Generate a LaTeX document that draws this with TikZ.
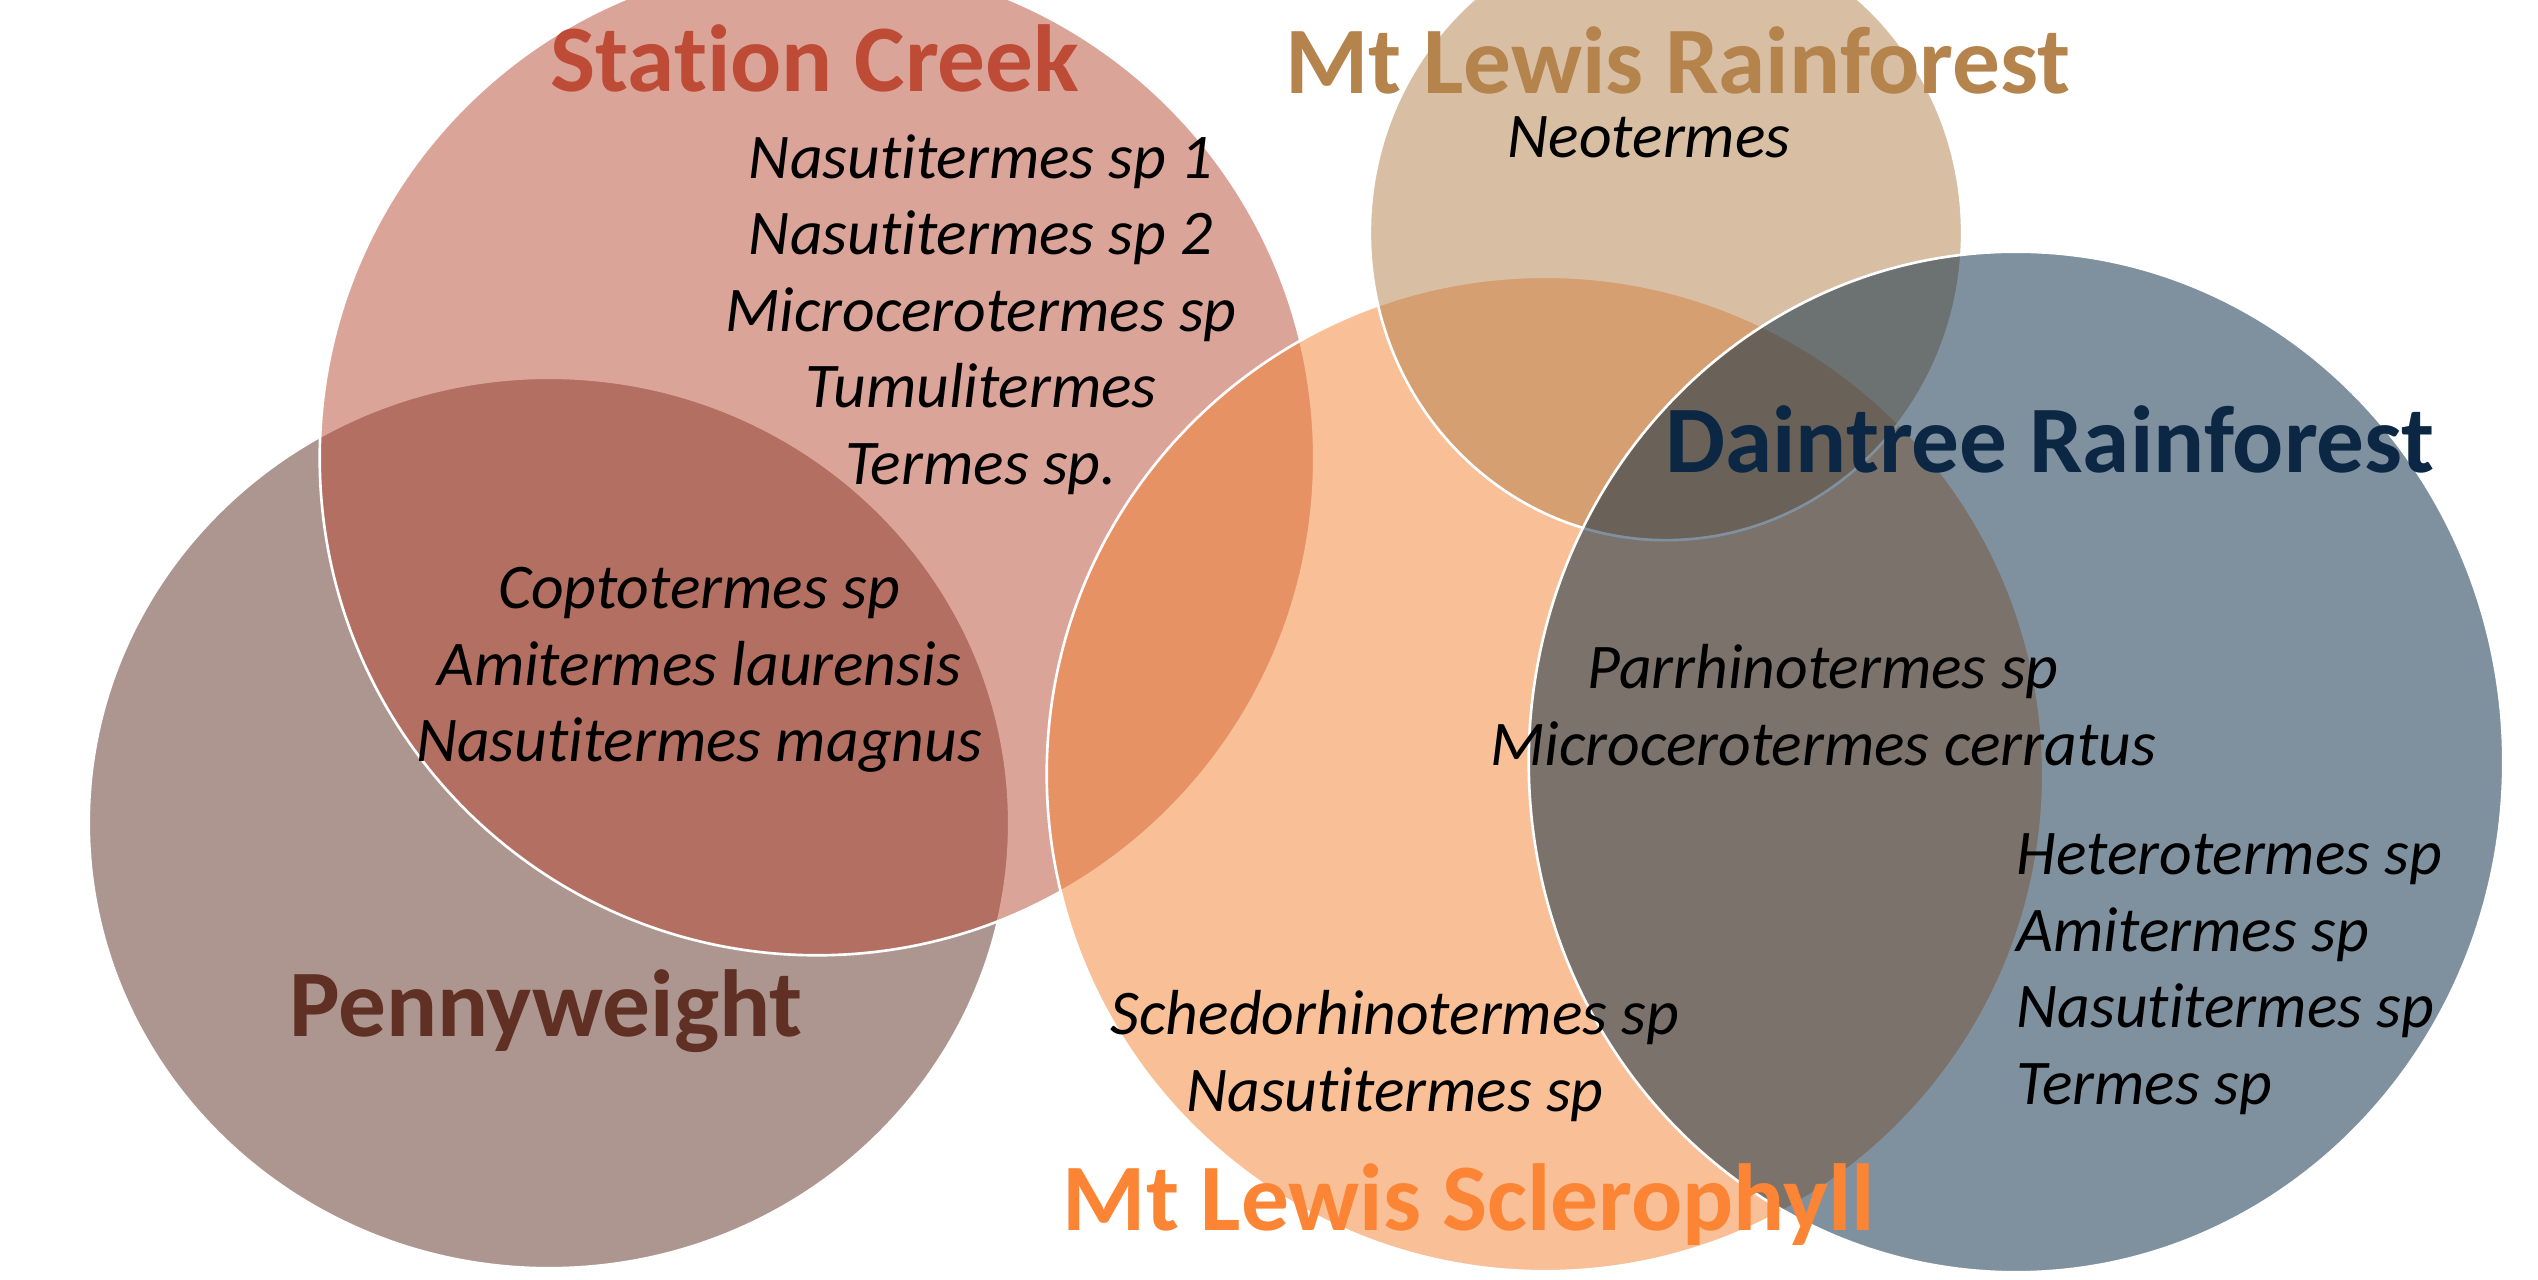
\documentclass[tikz,border=0pt]{standalone}
\usepackage{fontspec}
\setmainfont[Ligatures={NoCommon}]{Carlito}
\definecolor{scC}{HTML}{B84B35}
\definecolor{pwC}{HTML}{5E2F23}
\definecolor{mrC}{HTML}{B3804B}
\definecolor{msC}{HTML}{F48233}
\definecolor{drC}{HTML}{012541}
\definecolor{scT}{HTML}{BE4B36}
\definecolor{mrT}{HTML}{B5834C}
\definecolor{msT}{HTML}{FC8535}
\definecolor{drT}{HTML}{0C2744}
\definecolor{pwT}{HTML}{5F3023}
\begin{document}
\begin{tikzpicture}[x=0.01cm,y=-0.01cm,
  setshape/.style={fill=#1,fill opacity=0.5,draw=white,draw opacity=1,line width=0.75pt},
  settitle/.style={inner sep=0pt,anchor=base,text=#1,font=\fontsize{27.1}{32}\selectfont\bfseries},
  species/.style={inner sep=0pt,anchor=base,text=black,font=\fontsize{18.1}{21.8}\selectfont\itshape},
  specieswest/.style={species,anchor=base west}]
\useasboundingbox (0,0) rectangle (2538,1280);
\fill[white] (0,0) rectangle (2538,1280);
% sets
\path[setshape=pwC] (549,823) ellipse [x radius=4.60cm, y radius=4.45cm];
\path[setshape=scC] (817,458) ellipse [x radius=4.97cm, y radius=4.97cm];
\path[setshape=msC] (1545,774) ellipse [x radius=4.98cm, y radius=4.97cm];
\path[setshape=mrC] (1666,233) ellipse [x radius=2.96cm, y radius=3.07cm];
\path[setshape=drC] (2016,762) ellipse [x radius=4.87cm, y radius=5.10cm];
% titles
\node[settitle=scT] (tsc) at (815,92) {Station Creek};
\node[settitle=mrT] (tmr) at (1678,94) {Mt Lewis Rainforest};
\node[settitle=drT] (tdr) at (2050,473) {Daintree Rainforest};
\node[settitle=pwT] (tpw) at (546,1037) {Pennyweight};
\node[settitle=msT] (tms) at (1469,1231) {Mt Lewis Sclerophyll};
% species
\foreach \t [count=\i] in {Nasutitermes sp 1,Nasutitermes sp 2,Microcerotermes sp,Tumulitermes,Termes sp.}
  \node[species] (sc\i) at (981,{178.5+76.5*(\i-1)}) {\t};
\node[species] (mr1) at (1649,158) {Neotermes};
\foreach \t [count=\i] in {Coptotermes sp,Amitermes laurensis,Nasutitermes magnus}
  \node[species] (cp\i) at (699,{609+76.5*(\i-1)}) {\t};
\foreach \t [count=\i] in {Parrhinotermes sp,Microcerotermes cerratus}
  \node[species] (pm\i) at (1823,{689+76.5*(\i-1)}) {\t};
\foreach \t [count=\i] in {Heterotermes sp,Amitermes sp,Nasutitermes sp,Termes sp}
  \node[specieswest] (dr\i) at (2016,{875+76.5*(\i-1)}) {\t};
\foreach \t [count=\i] in {Schedorhinotermes sp,Nasutitermes sp}
  \node[species] (ms\i) at (1395,{1035+77*(\i-1)}) {\t};
\end{tikzpicture}
\end{document}
